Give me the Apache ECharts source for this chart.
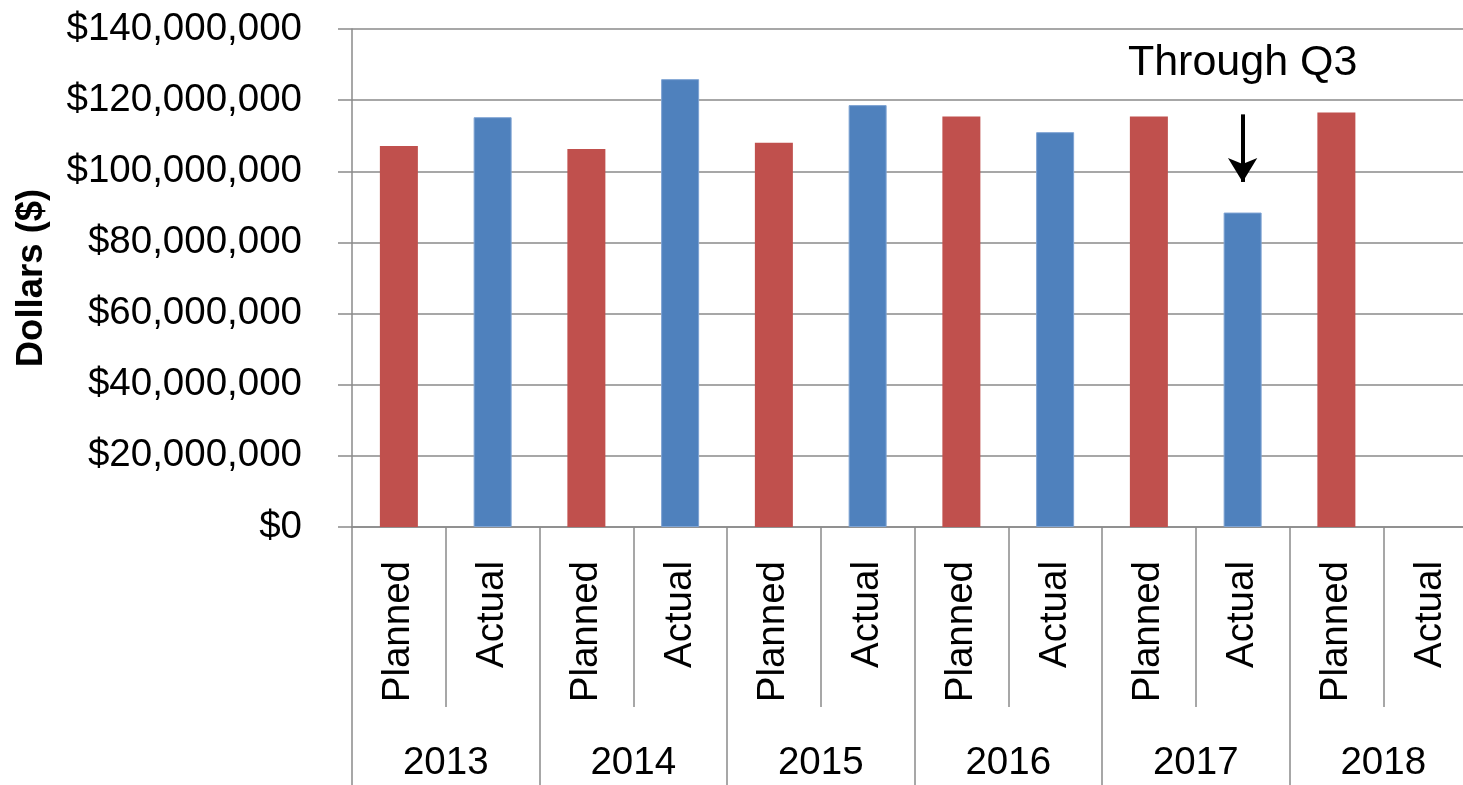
<!DOCTYPE html>
<html>
<head>
<meta charset="utf-8">
<script src="https://cdn.jsdelivr.net/npm/echarts@6/dist/echarts.min.js"></script>
<style>
html,body{margin:0;padding:0;background:#fff;}
#chart{width:1463px;height:785px;}
</style>
</head>
<body>
<div id="chart"></div>
<script>
var years = ['2013', '2014', '2015', '2016', '2017', '2018'];
var subLabels = ['Planned', 'Actual'];
var planned = [107100000, 106300000, 108000000, 115400000, 115400000, 116500000];
var actual = [115200000, 125900000, 118600000, 111000000, 88400000, null];
var yTicks = [0, 20000000, 40000000, 60000000, 80000000, 100000000, 120000000, 140000000];
var note = { text: 'Through Q3', index: 9, textValue: 130300000, arrowFrom: 116000000, arrowTo: 97000000 };

var plannedColor = '#C0504D';
var actualColor = '#4F81BD';
var gridColor = '#8a8a8a';
var FONT = 'Liberation Sans, Arial, sans-serif';

var cats = [];
var values = [];
years.forEach(function (y, i) {
  cats.push(subLabels[0]);
  values.push({ value: planned[i], itemStyle: { color: plannedColor } });
  cats.push(subLabels[1]);
  values.push(actual[i] == null ? '-' : { value: actual[i], itemStyle: { color: actualColor, borderColor: '#7ea3d3', borderWidth: 1 } });
});

var chart = echarts.init(document.getElementById('chart'), null, { renderer: 'canvas' });
chart.setOption({
  animation: false,
  backgroundColor: '#fff',
  textStyle: { fontFamily: FONT },
  grid: { left: 352, right: -14, top: 29, bottom: 258, containLabel: false, outerBoundsMode: 'none' },
  xAxis: [
    {
      type: 'category',
      data: cats,
      position: 'bottom',
      axisLine: { show: true, lineStyle: { color: gridColor, width: 1.5 } },
      axisTick: { show: true, interval: 0, length: 180, lineStyle: { color: gridColor, width: 1.5 } },
      axisLabel: { interval: 0, rotate: 90, margin: 34, fontSize: 38.5, color: '#000', fontFamily: FONT }
    },
    {
      type: 'category',
      data: years,
      position: 'bottom',
      axisLine: { show: false },
      axisTick: { show: true, interval: 0, length: 258, lineStyle: { color: gridColor, width: 1.5 } },
      axisLabel: { interval: 0, margin: 217, fontSize: 38.5, color: '#000', fontFamily: FONT }
    }
  ],
  yAxis: {
    type: 'value',
    min: yTicks[0],
    max: yTicks[yTicks.length - 1],
    interval: yTicks[1] - yTicks[0],
    name: 'Dollars ($)',
    nameLocation: 'middle',
    nameGap: 302,
    nameRotate: 90,
    nameTextStyle: { fontSize: 36.5, fontWeight: 'bold', color: '#000', fontFamily: FONT },
    axisLine: { show: true, lineStyle: { color: gridColor, width: 1.5 } },
    axisTick: { show: true, length: 14, lineStyle: { color: gridColor, width: 1.5 } },
    axisLabel: {
      margin: 50, fontSize: 38.5, color: '#000', fontFamily: FONT,
      formatter: function (v) { return '$' + v.toLocaleString('en-US'); }
    },
    splitLine: { show: true, lineStyle: { color: gridColor, width: 1.5 } }
  },
  series: [
    {
      type: 'bar',
      xAxisIndex: 0,
      barWidth: 38,
      data: values,
      markLine: {
        silent: true,
        symbol: ['none', 'arrow'],
        symbolSize: [22, 24],
        label: { show: false },
        lineStyle: { color: '#000', width: 4, type: 'solid' },
        data: [[{ coord: [note.index, note.arrowFrom] }, { coord: [note.index, note.arrowTo] }]]
      },
      markPoint: {
        silent: true,
        symbol: 'circle',
        symbolSize: 1,
        itemStyle: { color: 'rgba(0,0,0,0)' },
        label: { show: true, position: 'inside', formatter: note.text, fontSize: 43, color: '#000', fontFamily: FONT },
        data: [{ coord: [note.index, note.textValue] }]
      }
    }
  ]
});
</script>
</body>
</html>
